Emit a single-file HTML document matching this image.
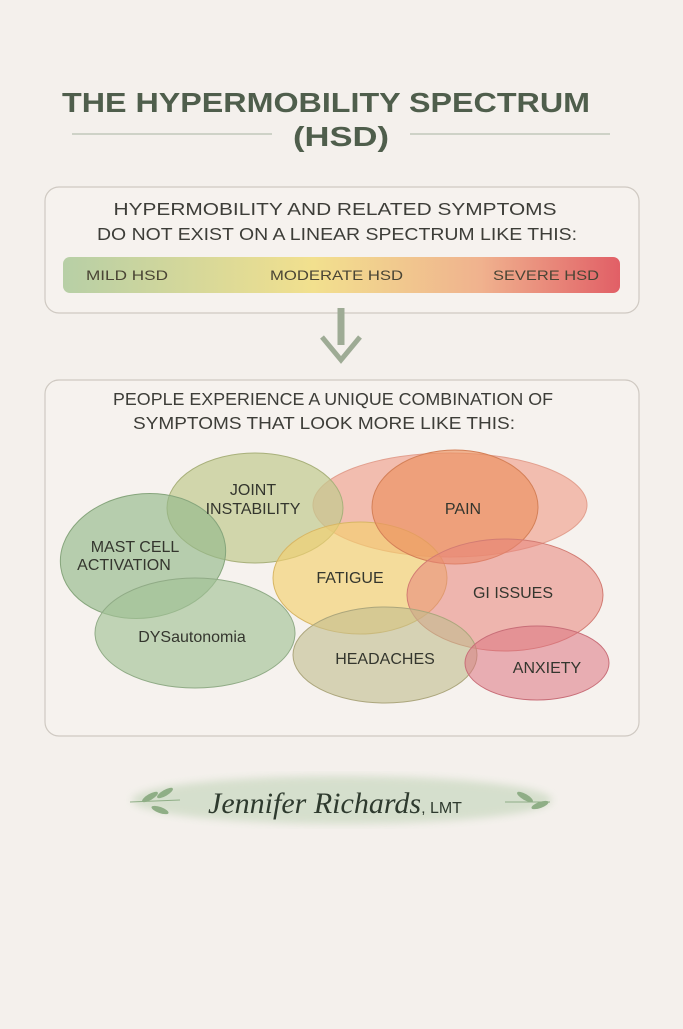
<!DOCTYPE html>
<html><head><meta charset="utf-8"><style>
body{margin:0;width:683px;height:1024px;background:#f4f0ec;overflow:hidden;font-family:"Liberation Sans",sans-serif}
</style></head><body>
<svg width="683" height="1024" viewBox="0 0 683 1024" xmlns="http://www.w3.org/2000/svg">
<defs>
<linearGradient id="bar" x1="0" x2="1"><stop offset="0" stop-color="#b7cfa6"/><stop offset="0.45" stop-color="#f2e08e"/><stop offset="0.75" stop-color="#f0b28e"/><stop offset="1" stop-color="#e15f66"/></linearGradient>
<filter id="blur"><feGaussianBlur stdDeviation="4"/></filter>
</defs>
<rect width="683" height="1024" fill="#f4f0ec"/>
<g font-family="Liberation Sans, sans-serif" fill="#4f5e4c" text-anchor="middle" font-weight="bold">
<text x="326" y="112" font-size="28" textLength="528" lengthAdjust="spacingAndGlyphs">THE HYPERMOBILITY SPECTRUM</text>
<text x="341" y="146" font-size="28" textLength="96" lengthAdjust="spacingAndGlyphs">(HSD)</text>
</g>
<line x1="72" y1="134" x2="272" y2="134" stroke="#a8b3a2" stroke-width="1"/>
<line x1="410" y1="134" x2="610" y2="134" stroke="#a8b3a2" stroke-width="1"/>
<rect x="45" y="187" width="594" height="126" rx="14" fill="#f6f2ee" stroke="#cfc9c2" stroke-width="1.2"/>
<g font-family="Liberation Sans, sans-serif" fill="#3d3d38" text-anchor="middle" font-size="17.5">
<text x="335" y="215" textLength="443" lengthAdjust="spacingAndGlyphs">HYPERMOBILITY AND RELATED SYMPTOMS</text>
<text x="337" y="240" textLength="480" lengthAdjust="spacingAndGlyphs">DO NOT EXIST ON A LINEAR SPECTRUM LIKE THIS:</text>
</g>
<rect x="63" y="257" width="557" height="36" rx="7" fill="url(#bar)"/>
<g font-family="Liberation Sans, sans-serif" fill="#4a4535" font-size="14">
<text x="86" y="280" textLength="82" lengthAdjust="spacingAndGlyphs">MILD HSD</text><text x="270" y="280" textLength="133" lengthAdjust="spacingAndGlyphs">MODERATE HSD</text><text x="493" y="280" textLength="106" lengthAdjust="spacingAndGlyphs">SEVERE HSD</text>
</g>
<path d="M341 308 V345" stroke="#9eab95" stroke-width="7"/>
<path d="M322 337 L341 360 L360 337" fill="none" stroke="#9eab95" stroke-width="5"/>
<rect x="45" y="380" width="594" height="356" rx="14" fill="#f6f2ee" stroke="#cfc9c2" stroke-width="1.2"/>
<g font-family="Liberation Sans, sans-serif" fill="#3d3d38" text-anchor="middle" font-size="17.5">
<text x="333" y="405" textLength="440" lengthAdjust="spacingAndGlyphs">PEOPLE EXPERIENCE A UNIQUE COMBINATION OF</text>
<text x="324" y="429" textLength="382" lengthAdjust="spacingAndGlyphs">SYMPTOMS THAT LOOK MORE LIKE THIS:</text>
</g>
<g stroke-width="1">
<ellipse cx="450" cy="505" rx="137" ry="52" fill="#f0a08e" fill-opacity="0.65" stroke="#e2a08f"/>
<ellipse cx="255" cy="508" rx="88" ry="55" fill="#c2cb8e" fill-opacity="0.7" stroke="#a8b07a"/>
<ellipse cx="143" cy="556" rx="83" ry="62" transform="rotate(-8 143 556)" fill="#94b88a" fill-opacity="0.65" stroke="#86a57c"/>
<ellipse cx="195" cy="633" rx="100" ry="55" fill="#a3c197" fill-opacity="0.65" stroke="#90ab86"/>
<ellipse cx="360" cy="578" rx="87" ry="56" fill="#f3cf6e" fill-opacity="0.65" stroke="#d7b665"/>
<ellipse cx="455" cy="507" rx="83" ry="57" fill="#eb9060" fill-opacity="0.65" stroke="#d48058"/>
<ellipse cx="505" cy="595" rx="98" ry="56" fill="#e8837a" fill-opacity="0.55" stroke="#d27c73"/>
<ellipse cx="385" cy="655" rx="92" ry="48" fill="#c2bd8e" fill-opacity="0.6" stroke="#aca67c"/>
<ellipse cx="537" cy="663" rx="72" ry="37" fill="#dd7482" fill-opacity="0.55" stroke="#c86e78"/>
</g>
<g font-family="Liberation Sans, sans-serif" fill="#34362e" text-anchor="middle" font-size="16">
<text x="253" y="495">JOINT</text><text x="253" y="514">INSTABILITY</text>
<text x="135" y="552">MAST CELL</text><text x="124" y="570">ACTIVATION</text>
<text x="192" y="642">DYSautonomia</text>
<text x="350" y="583">FATIGUE</text>
<text x="463" y="514">PAIN</text>
<text x="513" y="598">GI ISSUES</text>
<text x="385" y="664">HEADACHES</text>
<text x="547" y="673">ANXIETY</text>
</g>
<ellipse cx="342" cy="800" rx="210" ry="24" fill="#c9d8c0" opacity="0.7" filter="url(#blur)"/>
<text x="335" y="813" text-anchor="middle" font-family="Liberation Serif, serif" font-style="italic" font-size="30" fill="#2e3a2e">Jennifer Richards<tspan font-style="normal" font-family="Liberation Sans, sans-serif" font-size="16">, LMT</tspan></text>
<g fill="#8fae86"><ellipse cx="150" cy="797" rx="9" ry="3" transform="rotate(-30 150 797)"/><ellipse cx="165" cy="793" rx="9" ry="3" transform="rotate(-30 165 793)"/><ellipse cx="160" cy="810" rx="9" ry="3" transform="rotate(20 160 810)"/>
<ellipse cx="525" cy="797" rx="9" ry="3" transform="rotate(30 525 797)"/><ellipse cx="540" cy="805" rx="9" ry="3" transform="rotate(-20 540 805)"/></g>
<line x1="130" y1="802" x2="180" y2="800" stroke="#8fae86"/><line x1="505" y1="802" x2="550" y2="802" stroke="#8fae86"/>
</svg>
</body></html>
